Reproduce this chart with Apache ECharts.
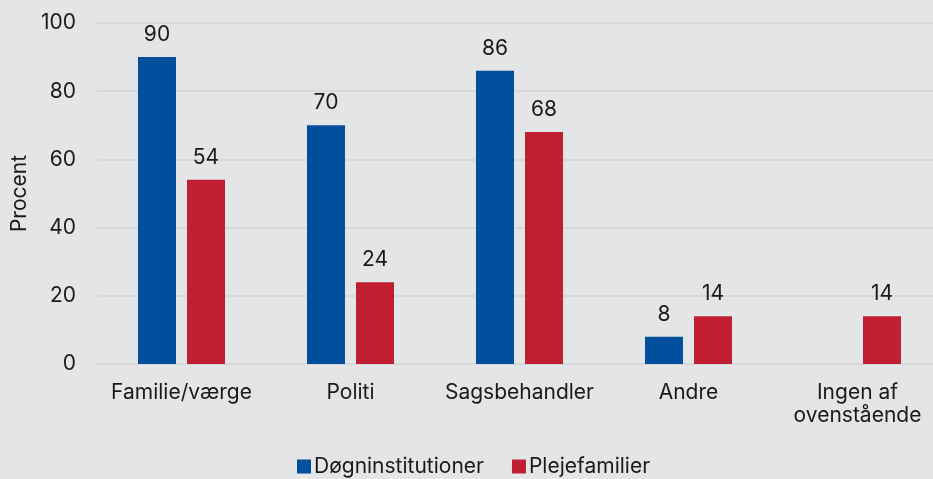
<!DOCTYPE html>
<html>
<head>
<meta charset="utf-8">
<script src="https://cdn.jsdelivr.net/npm/echarts@6/dist/echarts.min.js"></script>
<style>
  html, body { margin: 0; padding: 0; background: #e4e5e7; }
  #chart { width: 933px; height: 479px; }
</style>
</head>
<body>
<div id="chart"></div>
<script>
var categories = ["Familie/værge", "Politi", "Sagsbehandler", "Andre", "Ingen af\novenstående"];
var dogn = [90, 70, 86, 8, null];
var pleje = [54, 24, 68, 14, 14];
var yTicks = { min: 0, max: 100, interval: 20 };

var chart = echarts.init(document.getElementById("chart"));
var font = "Inter";
var txt = "#1a1a1a";
var fs = 21;
chart.setOption({
  backgroundColor: "#e4e5e7",
  animation: false,
  textStyle: { fontFamily: font },
  grid: { left: 97, right: -9, top: 23, bottom: 115, outerBoundsMode: "none", containLabel: false },
  legend: {
    bottom: -3,
    left: 292,
    itemWidth: 14,
    itemHeight: 14,
    itemGap: 28,
    icon: "rect",
    textStyle: { fontSize: fs, color: txt, fontFamily: font, padding: [0, 0, 0, -2] },
    data: ["Døgninstitutioner", "Plejefamilier"]
  },
  xAxis: {
    type: "category",
    data: categories,
    axisLine: { show: false },
    axisTick: { show: false },
    axisLabel: { fontSize: fs, color: txt, margin: 17, lineHeight: 23, interval: 0 }
  },
  yAxis: {
    type: "value",
    min: yTicks.min,
    max: yTicks.max,
    interval: yTicks.interval,
    name: "Procent",
    nameLocation: "middle",
    nameGap: 66,
    nameRotate: 90,
    nameTextStyle: { fontSize: fs, color: txt },
    axisLabel: { fontSize: fs, color: txt, margin: 21 },
    splitLine: { lineStyle: { color: "#d2d3d6", width: 1.5 } }
  },
  series: [
    {
      name: "Døgninstitutioner",
      type: "bar",
      data: dogn,
      barWidth: 38,
      barGap: "29%",
      itemStyle: { color: "#004f9c" },
      label: { show: true, position: "top", distance: 12, fontSize: fs, color: txt }
    },
    {
      name: "Plejefamilier",
      type: "bar",
      data: pleje,
      barWidth: 38,
      itemStyle: { color: "#c01f32" },
      label: { show: true, position: "top", distance: 12, fontSize: fs, color: txt }
    }
  ]
});
</script>
</body>
</html>
